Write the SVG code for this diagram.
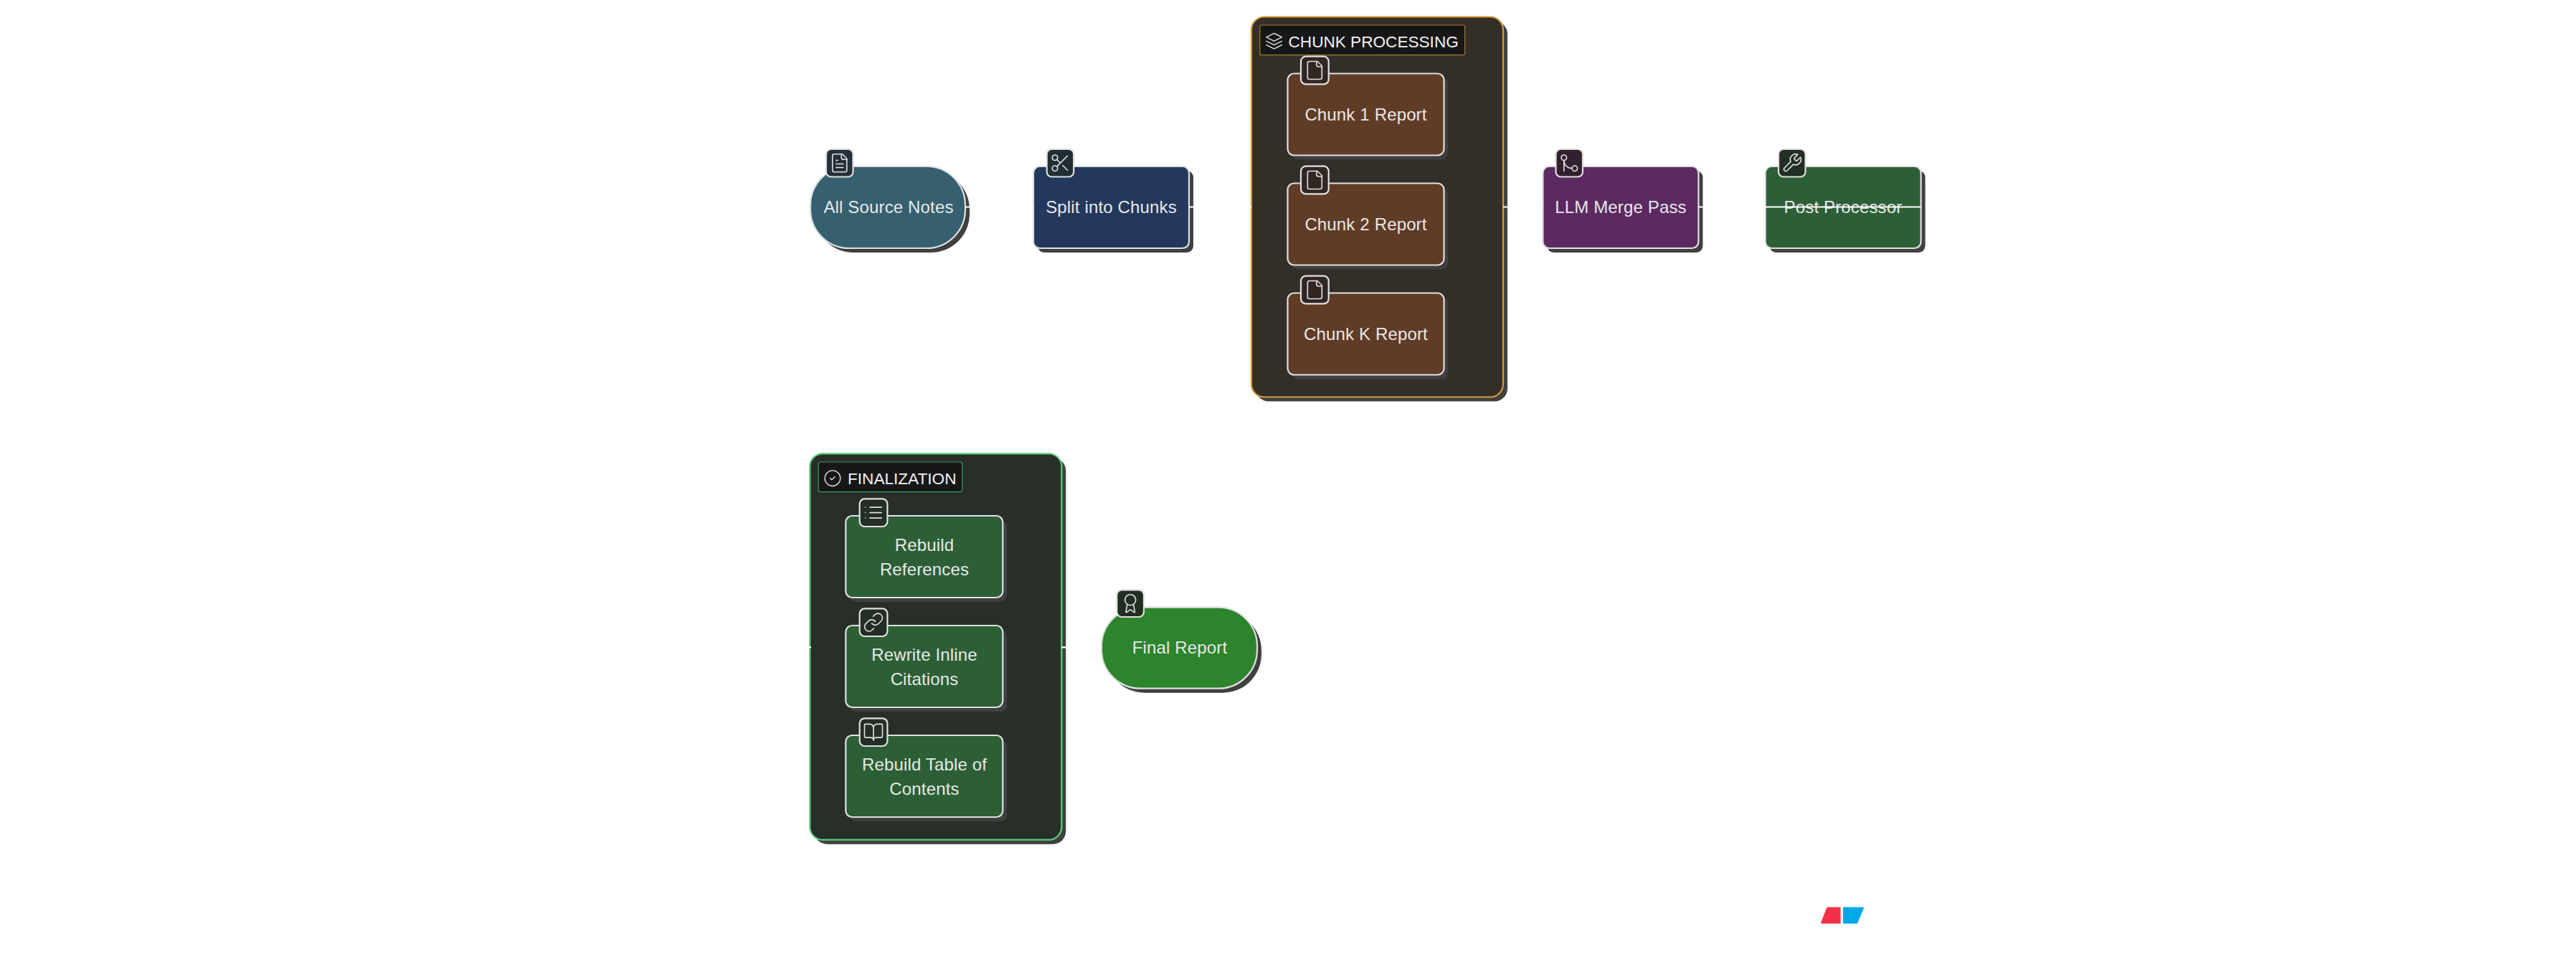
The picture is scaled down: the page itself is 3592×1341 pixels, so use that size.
<svg xmlns="http://www.w3.org/2000/svg" xmlns:xlink="http://www.w3.org/1999/xlink" width="3592" height="1341" viewBox="0 0 3592 1341">
<style>
text{font-family:"Liberation Sans",Arial,sans-serif;fill:#e8e8e8;font-size:24px;letter-spacing:.15px;text-anchor:middle}
.title{fill:#f2f2f2;font-size:22.6px;text-anchor:start;letter-spacing:0}
.s{fill:#404040}
.n{stroke:#e0e0e0;stroke-width:2.2}
.b{stroke:#e0e0e0;stroke-width:2.2}
.i{fill:none;stroke:#e0e0e0;stroke-width:1.3;stroke-linecap:round;stroke-linejoin:round}
.c{fill:none;stroke:#fff;stroke-width:2.2}
</style>
<defs>
<g id="i-file" class="i"><path d="M15 2H6a2 2 0 0 0-2 2v16a2 2 0 0 0 2 2h12a2 2 0 0 0 2-2V7Z"/><path d="M14 2v4a2 2 0 0 0 2 2h4"/></g>
<g id="i-filetext" class="i"><path d="M15 2H6a2 2 0 0 0-2 2v16a2 2 0 0 0 2 2h12a2 2 0 0 0 2-2V7Z"/><path d="M14 2v4a2 2 0 0 0 2 2h4"/><path d="M10 9H8M16 13H8M16 17H8"/></g>
<g id="i-scissors" class="i"><circle cx="6" cy="6" r="3"/><path d="M8.12 8.12 12 12"/><path d="M20 4 8.12 15.88"/><circle cx="6" cy="18" r="3"/><path d="M14.8 14.8 20 20"/></g>
<g id="i-merge" class="i"><circle cx="18" cy="18" r="3"/><circle cx="6" cy="6" r="3"/><path d="M6 21V9a9 9 0 0 0 9 9"/></g>
<g id="i-wrench" class="i"><path d="M14.7 6.3a1 1 0 0 0 0 1.4l1.6 1.6a1 1 0 0 0 1.4 0l3.77-3.77a6 6 0 0 1-7.94 7.94l-6.91 6.91a2.12 2.12 0 0 1-3-3l6.91-6.91a6 6 0 0 1 7.94-7.94l-3.76 3.76z"/></g>
<g id="i-layers" class="i"><path d="M12 2 2 7l10 5 10-5-10-5Z"/><path d="M2 17l10 5 10-5"/><path d="M2 12l10 5 10-5"/></g>
<g id="i-check" class="i"><circle cx="12" cy="12" r="10"/><path d="m9 12 2 2 4-4"/></g>
<g id="i-list" class="i"><path d="M8 6h13M8 12h13M8 18h13M3 6h.01M3 12h.01M3 18h.01"/></g>
<g id="i-link" class="i"><path d="M10 13a5 5 0 0 0 7.54.54l3-3a5 5 0 0 0-7.07-7.07l-1.72 1.71"/><path d="M14 11a5 5 0 0 0-7.54-.54l-3 3a5 5 0 0 0 7.07 7.07l1.71-1.71"/></g>
<g id="i-book" class="i"><path d="M12 7v14"/><path d="M3 18a1 1 0 0 1-1-1V4a1 1 0 0 1 1-1h5a4 4 0 0 1 4 4 4 4 0 0 1 4-4h5a1 1 0 0 1 1 1v13a1 1 0 0 1-1 1h-6a3 3 0 0 0-3 3 3 3 0 0 0-3-3z"/></g>
<g id="i-award" class="i"><path d="m15.477 12.89 1.515 8.526a.5.5 0 0 1-.81.47l-3.58-2.687a1 1 0 0 0-1.197 0l-3.586 2.686a.5.5 0 0 1-.81-.469l1.514-8.526"/><circle cx="12" cy="8" r="6"/></g>
</defs>

<g id="source-notes">
<rect class="s" x="1136" y="238" width="216" height="114" rx="54"/>
<rect class="n" x="1130" y="232" width="216" height="114" rx="54" fill="#36606f"/>
<rect class="b" x="1152" y="208" width="37.5" height="38.5" rx="7" fill="#263038"/>
<use href="#i-filetext" transform="translate(1155.8 212.3) scale(1.25)"/>
<text x="1239" y="297">All Source Notes</text>
</g>

<g id="split-chunks">
<rect class="s" x="1447" y="238" width="217" height="114" rx="9"/>
<rect class="n" x="1441" y="232" width="217" height="114" rx="9" fill="#23385c"/>
<rect class="b" x="1459.7" y="208" width="37.5" height="38.5" rx="7" fill="#212f35"/>
<use href="#i-scissors" transform="translate(1463.5 212.3) scale(1.25)"/>
<text x="1549.5" y="297">Split into Chunks</text>
</g>

<g id="chunk-processing">
<rect class="s" x="1751" y="29.5" width="351" height="530" rx="18"/>
<rect x="1745" y="23.5" width="351" height="530" rx="18" fill="#332f28" stroke="#d69a3a" stroke-width="2.2"/>
<rect x="1756.7" y="35" width="286" height="41.7" rx="3" fill="#171717" stroke="#a87a2c" stroke-width="1.2"/>
<use href="#i-layers" transform="translate(1763.7 44.3) scale(1.08)"/>
<text class="title" x="1796.5" y="65.5">CHUNK PROCESSING</text>
</g>

<g id="chunk-1">
<rect class="s" x="1801" y="108.5" width="218" height="114" rx="9"/>
<rect class="n" x="1795.5" y="102.5" width="218" height="114" rx="9" fill="#603c27"/>
<rect class="b" x="1814" y="78.7" width="38.7" height="38.7" rx="7" fill="#322622"/>
<use href="#i-file" transform="translate(1818.3 83) scale(1.25)"/>
<text x="1904.5" y="168">Chunk 1 Report</text>
</g>
<g id="chunk-2">
<rect class="s" x="1801" y="261.5" width="218" height="114" rx="9"/>
<rect class="n" x="1795.5" y="255.5" width="218" height="114" rx="9" fill="#603c27"/>
<rect class="b" x="1814" y="231.7" width="38.7" height="38.7" rx="7" fill="#322622"/>
<use href="#i-file" transform="translate(1818.3 236) scale(1.25)"/>
<text x="1904.5" y="321">Chunk 2 Report</text>
</g>
<g id="chunk-k">
<rect class="s" x="1801" y="414.5" width="218" height="114" rx="9"/>
<rect class="n" x="1795.5" y="408.5" width="218" height="114" rx="9" fill="#603c27"/>
<rect class="b" x="1814" y="384.7" width="38.7" height="38.7" rx="7" fill="#322622"/>
<use href="#i-file" transform="translate(1818.3 389) scale(1.25)"/>
<text x="1904.5" y="474">Chunk K Report</text>
</g>

<g id="llm-merge">
<rect class="s" x="2157.4" y="238" width="217" height="114" rx="9"/>
<rect class="n" x="2151.4" y="232" width="217" height="114" rx="9" fill="#5c2a61"/>
<rect class="b" x="2169.5" y="208" width="37.5" height="38.5" rx="7" fill="#33202f"/>
<use href="#i-merge" transform="translate(2173.3 212.3) scale(1.25)"/>
<text x="2260" y="297">LLM Merge Pass</text>
</g>

<g id="post-processor">
<rect class="s" x="2467.6" y="238" width="217" height="114" rx="9"/>
<rect class="n" x="2461.6" y="232" width="217" height="114" rx="9" fill="#2c5f36"/>
<rect class="b" x="2480" y="208" width="37.5" height="38.5" rx="7" fill="#232e25"/>
<use href="#i-wrench" transform="translate(2483.8 212.3) scale(1.25)"/>
<text x="2570" y="297">Post Processor</text>
</g>

<g id="finalization">
<rect class="s" x="1135.3" y="638.3" width="351" height="538.4" rx="18"/>
<rect x="1129.3" y="632.3" width="351" height="538.4" rx="18" fill="#282f28" stroke="#5fcf7f" stroke-width="2.2"/>
<rect x="1141.3" y="644" width="200.4" height="41.7" rx="3" fill="#171717" stroke="#3f9a5a" stroke-width="1.2"/>
<use href="#i-check" transform="translate(1148 653.7) scale(1.08)"/>
<text class="title" x="1182" y="674.5">FINALIZATION</text>
</g>

<g id="rebuild-references">
<rect class="s" x="1185" y="725" width="219" height="114" rx="9"/>
<rect class="n" x="1179.3" y="719" width="219" height="114" rx="9" fill="#2c5f36"/>
<rect class="b" x="1198.7" y="695.3" width="38.7" height="38.7" rx="7" fill="#232e25"/>
<use href="#i-list" transform="translate(1203 699.6) scale(1.25)"/>
<text x="1289" y="768.3">Rebuild</text>
<text x="1289" y="801.8">References</text>
</g>
<g id="rewrite-citations">
<rect class="s" x="1185" y="878" width="219" height="114" rx="9"/>
<rect class="n" x="1179.3" y="872" width="219" height="114" rx="9" fill="#2c5f36"/>
<rect class="b" x="1198.7" y="848.3" width="38.7" height="38.7" rx="7" fill="#232e25"/>
<use href="#i-link" transform="translate(1203 852.6) scale(1.25)"/>
<text x="1289" y="921.3">Rewrite Inline</text>
<text x="1289" y="954.8">Citations</text>
</g>
<g id="rebuild-toc">
<rect class="s" x="1185" y="1031" width="219" height="114" rx="9"/>
<rect class="n" x="1179.3" y="1025" width="219" height="114" rx="9" fill="#2c5f36"/>
<rect class="b" x="1198.7" y="1001.3" width="38.7" height="38.7" rx="7" fill="#232e25"/>
<use href="#i-book" transform="translate(1203 1005.6) scale(1.25)"/>
<text x="1289" y="1074.3">Rebuild Table of</text>
<text x="1289" y="1107.8">Contents</text>
</g>

<g id="final-report">
<rect class="s" x="1542" y="852.7" width="217" height="113" rx="54"/>
<rect class="n" x="1536" y="846.7" width="217" height="113" rx="54" fill="#2d842d"/>
<rect class="b" x="1557.3" y="822.3" width="37.7" height="37.7" rx="7" fill="#222e22"/>
<use href="#i-award" transform="translate(1561.2 826.2) scale(1.25)"/>
<text x="1645" y="911">Final Report</text>
</g>

<g id="connectors">
<path class="c" d="M1346 288.5H1441"/>
<path class="c" d="M1658 288.5H1745"/>
<path class="c" d="M2096 288.5H2151.4"/>
<path class="c" d="M2368.4 288.5H2461.6"/>
<path class="c" d="M2461.6 288.5H2678.6"/>
<path class="c" d="M1480.3 902.3H1536"/>
<path class="c" d="M1124 902.3H1131"/>
</g>

<g id="logo">
<path d="M2548.8 1264.5H2566.5V1287.5H2540.5Q2538.5 1287.5 2539.3 1285.5L2547 1265.7Q2547.4 1264.5 2548.8 1264.5Z" fill="#f2304a"/>
<path d="M2570 1264.5H2598Q2599.6 1264.5 2598.9 1266L2590.5 1286Q2590 1287.5 2588.5 1287.5H2570Z" fill="#00a8e8"/>
</g>
</svg>
